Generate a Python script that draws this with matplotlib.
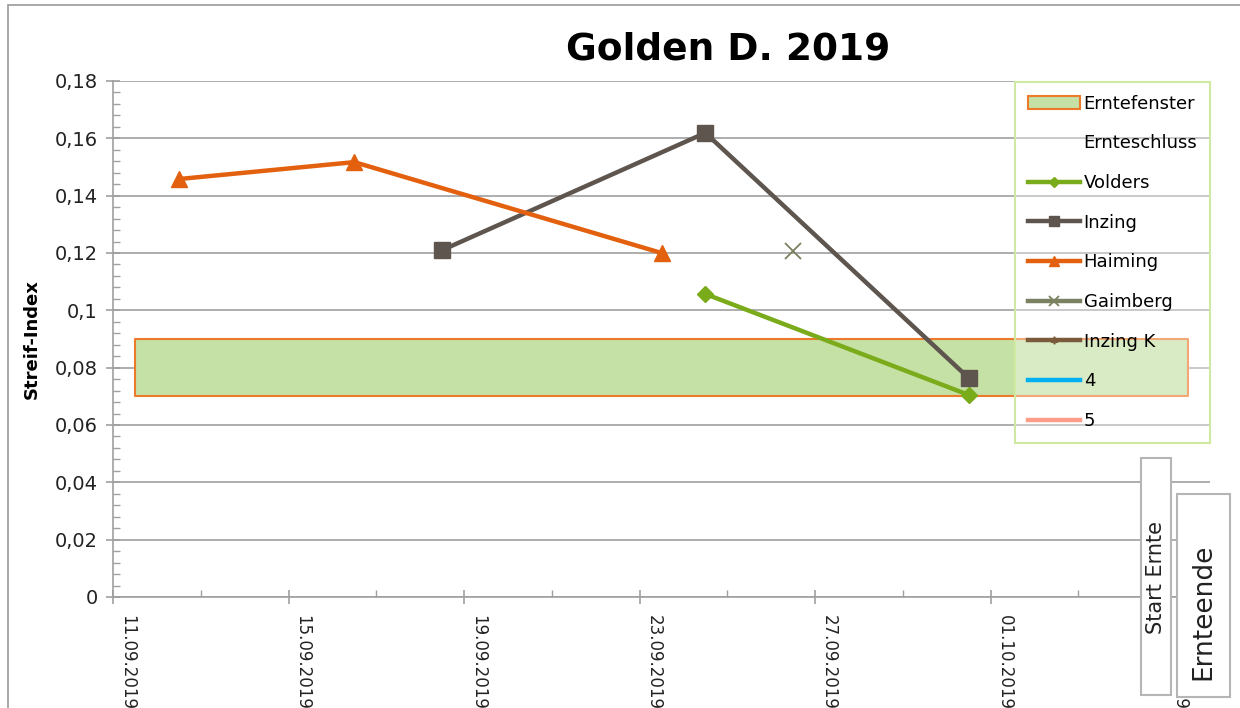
import datetime as dt
import matplotlib
matplotlib.use("Agg")
import matplotlib.pyplot as plt
import matplotlib.dates as mdates
from matplotlib.patches import Rectangle
from matplotlib.ticker import MultipleLocator, FuncFormatter
import matplotlib.transforms as mtransforms

# --- data ---
haiming_dates = ["2019-09-12 12:00", "2019-09-16 12:00", "2019-09-23 12:00"]
haiming_vals = [0.1458, 0.1517, 0.1200]

inzing_dates = ["2019-09-18 12:00", "2019-09-24 12:00", "2019-09-30 12:00"]
inzing_vals = [0.1210, 0.1619, 0.0764]

volders_dates = ["2019-09-24 12:00", "2019-09-30 12:00"]
volders_vals = [0.1057, 0.0705]

gaimberg_dates = ["2019-09-26 12:00"]
gaimberg_vals = [0.1207]

window_dates = ["2019-09-11 12:00", "2019-10-05 12:00"]
window_low = 0.07
window_high = 0.09

x_start = "2019-09-11 00:00"
x_end = "2019-10-06 00:00"


def to_dt(vals):
    return [dt.datetime.strptime(v, "%Y-%m-%d %H:%M") for v in vals]


plt.rcParams["font.family"] = ["DejaVu Sans"]

W, H = 1240, 708
fig = plt.figure(figsize=(W / 100, H / 100), dpi=100)
ax = fig.add_axes([113 / W, 1 - 597 / H, (1210 - 113) / W, (597 - 81) / H])

grid_col = "#a0a0a0"

# harvest window
wd = to_dt(window_dates)
ax.fill_between(wd, [window_low] * 2, [window_high] * 2, facecolor="#c5e1a5",
                edgecolor="#ec7a2c", linewidth=1.5, label="Erntefenster", zorder=2)
ax.plot([], [], color="none", label="Ernteschluss")

ax.plot(to_dt(volders_dates), volders_vals, color="#7aab1a", lw=3.2, marker="D",
        ms=8, label="Volders", zorder=4)
ax.plot(to_dt(inzing_dates), inzing_vals, color="#5d554e", lw=3.2, marker="s",
        ms=12, label="Inzing", zorder=4)
ax.plot(to_dt(haiming_dates), haiming_vals, color="#e2600e", lw=3.2, marker="^",
        ms=11, label="Haiming", zorder=4)
ax.plot(to_dt(gaimberg_dates), gaimberg_vals, color="#7a8160", lw=3.2, marker="x",
        ms=11, mew=1.3, label="Gaimberg", zorder=4)
ax.plot([], [], color="#7b5a3c", lw=3.2, marker=(6, 2, 0), ms=9, mew=1.2, label="Inzing K")
ax.plot([], [], color="#00b0f0", lw=3.2, label="4")
ax.plot([], [], color="#ff9e88", lw=3.2, label="5")

ax.set_xlim(dt.datetime.strptime(x_start, "%Y-%m-%d %H:%M"),
            dt.datetime.strptime(x_end, "%Y-%m-%d %H:%M"))
ax.set_ylim(0, 0.18)

ax.yaxis.set_major_locator(MultipleLocator(0.02))
ax.yaxis.set_minor_locator(MultipleLocator(0.004))
ax.yaxis.set_major_formatter(FuncFormatter(
    lambda v, p: "0" if abs(v) < 1e-9 else ("%g" % round(v, 3)).replace(".", ",")))

ticks = [dt.datetime(2019, 9, 11) + dt.timedelta(days=4 * i) for i in range(7)]
ax.set_xticks(ticks)
ax.set_xticks([dt.datetime(2019, 9, 13) + dt.timedelta(days=4 * i) for i in range(6)], minor=True)
ax.xaxis.set_major_formatter(mdates.DateFormatter("%d.%m.%Y"))

ax.grid(axis="y", which="major", color=grid_col, lw=1.2, zorder=0)
ax.set_axisbelow(True)
for s in ["top", "right"]:
    ax.spines[s].set_visible(False)
for s in ["left", "bottom"]:
    ax.spines[s].set_color(grid_col)
    ax.spines[s].set_linewidth(1.2)

ax.tick_params(axis="both", which="major", direction="inout", length=10, width=1.2,
               color=grid_col)
ax.tick_params(axis="both", which="minor", direction="in", length=5, width=1,
               color=grid_col)
ax.tick_params(axis="y", labelsize=14, labelcolor="#222222", pad=6)
ax.tick_params(axis="x", labelsize=12, labelcolor="#222222", pad=8)

offset = mtransforms.ScaledTranslation(14 / 100, 0, fig.dpi_scale_trans)
for lab in ax.get_xticklabels():
    lab.set_rotation(270)
    lab.set_ha("center")
    lab.set_va("top")
    lab.set_transform(lab.get_transform() + offset)

ax.set_ylabel("Streif-Index", fontsize=13, fontweight="bold", labelpad=10)

fig.text(728 / W, 1 - 50 / H, "Golden D. 2019", fontsize=27, fontweight="bold",
         ha="center", va="center")

leg = ax.legend(loc="upper right", bbox_to_anchor=(1210 / W, 1 - 82 / H),
                bbox_transform=fig.transFigure, borderaxespad=0, fontsize=13,
                frameon=True, fancybox=False,
                handlelength=2.9, handletextpad=0.2, labelspacing=1.2,
                borderpad=0.7, markerscale=0.6)
frame = leg.get_frame()
frame.set_alpha(None)
frame.set_facecolor((1, 1, 1, 0.35))
frame.set_edgecolor("#cfe9a0")
frame.set_linewidth(1.5)
leg.set_zorder(5)

# outer chart border
fig.patches.append(Rectangle((8 / W, -0.1), 1.2, 1 - 5 / H + 0.1, transform=fig.transFigure,
                             fill=False, edgecolor="#9a9a9a", lw=1.2))

# harvest label boxes
for x0, y0, x1, y1, ty, txt, fs in [(1141, 458, 1171, 695, 578, "Start Ernte", 15),
                                     (1177, 494, 1230, 697, 612, "Ernteende", 19)]:
    fig.patches.append(Rectangle((x0 / W, 1 - y1 / H), (x1 - x0) / W, (y1 - y0) / H,
                                 transform=fig.transFigure, facecolor="white",
                                 edgecolor="#b5b5b5", lw=1.5, zorder=10))
    fig.text((x0 + x1) / 2 / W, 1 - ty / H, txt, rotation=90, fontsize=fs,
             ha="center", va="center", color="#222222", zorder=11)

fig.savefig("out.png", dpi=100)
